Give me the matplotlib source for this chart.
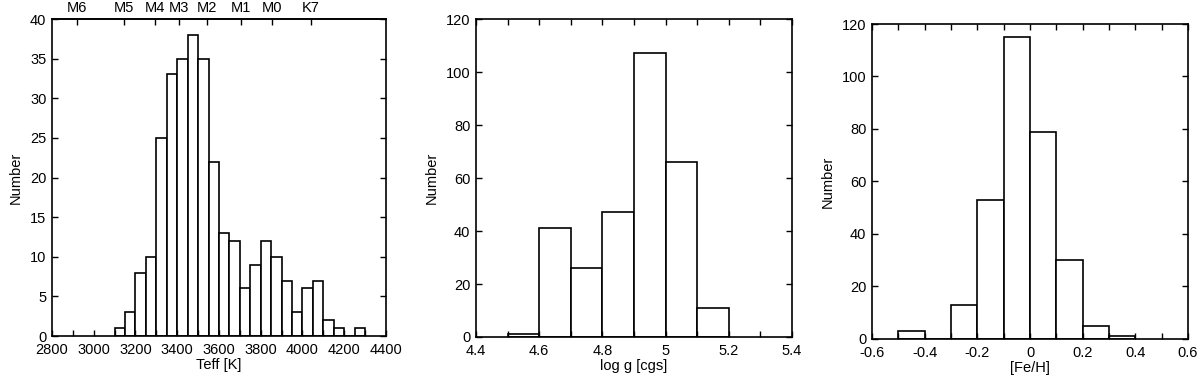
import numpy as np
import matplotlib
matplotlib.use("Agg")
import matplotlib.pyplot as plt
from matplotlib.ticker import MultipleLocator

plt.rcParams['font.family'] = ['Liberation Sans', 'DejaVu Sans']
plt.rcParams['font.size'] = 10.5

# Teff histogram, 50 K bins starting at 3100 K
teff_left = [3100, 3150, 3200, 3250, 3300, 3350, 3400, 3450, 3500, 3550, 3600, 3650,
             3700, 3750, 3800, 3850, 3900, 3950, 4000, 4050, 4100, 4150, 4200, 4250]
teff_count = [1, 3, 8, 10, 25, 33, 35, 38, 35, 22, 13, 12,
              6, 9, 12, 10, 7, 3, 6, 7, 2, 1, 0, 1]
spt_labels = ["M6", "M5", "M4", "M3", "M2", "M1", "M0", "K7"]
spt_teff = [2918, 3143, 3295, 3410, 3543, 3705, 3856, 4040]

# log g histogram, 0.1 dex bins
logg_left = [4.5, 4.6, 4.7, 4.8, 4.9, 5.0, 5.1]
logg_count = [1, 41, 26, 47, 107, 66, 11]

# [Fe/H] histogram, 0.1 dex bins
feh_left = [-0.5, -0.4, -0.3, -0.2, -0.1, 0.0, 0.1, 0.2, 0.3]
feh_count = [3, 0, 13, 53, 115, 79, 30, 5, 1]

fig = plt.figure(figsize=(12, 3.84), dpi=100)

positions = [
    [0.0433, 0.125, 0.2783, 0.8255],
    [0.3967, 0.1224, 0.2633, 0.828],
    [0.7267, 0.1172, 0.2633, 0.8203],
]

panels = [
    (teff_left, teff_count, 50, (2800, 4400), (0, 40), 200, 100, 5, "Teff [K]", "%d"),
    (logg_left, logg_count, 0.1, (4.4, 5.4), (0, 120), 0.2, 0.1, 20, "log g [cgs]", None),
    (feh_left, feh_count, 0.1, (-0.6, 0.6), (0, 120), 0.2, 0.1, 20, "[Fe/H]", None),
]

for i, (left, count, width, xlim, ylim, xmaj, xmin, ymaj, xlabel, fmt) in enumerate(panels):
    ax = fig.add_axes(positions[i])
    ax.bar(left, count, width=width, align='edge', facecolor='white',
           edgecolor='black', linewidth=1.2)
    ax.set_xlim(*xlim)
    ax.set_ylim(*ylim)
    ax.xaxis.set_major_locator(MultipleLocator(xmaj))
    ax.xaxis.set_minor_locator(MultipleLocator(xmin))
    ax.yaxis.set_major_locator(MultipleLocator(ymaj))
    ax.set_xlabel(xlabel, labelpad=1)
    ax.set_ylabel("Number", labelpad=5)
    for s in ax.spines.values():
        s.set_linewidth(1.2)
    top = (i != 0)
    ax.tick_params(which='both', direction='in', top=top, right=True, width=1.0)
    ax.tick_params(which='major', length=4)
    ax.tick_params(which='minor', length=4)
    ax.tick_params(axis='x', which='major', pad=5)
    ax.tick_params(axis='y', which='major', pad=4)
    if fmt is None:
        ax.xaxis.set_major_formatter(plt.FuncFormatter(lambda v, p: "%g" % round(v, 2)))
    if i == 0:
        sec = ax.secondary_xaxis('top')
        sec.set_xticks(spt_teff)
        sec.set_xticklabels(spt_labels)
        sec.tick_params(direction='in', length=4, width=1.0, pad=3)
        sec.xaxis.set_minor_locator(plt.NullLocator())
        for s in sec.spines.values():
            s.set_linewidth(1.2)

fig.savefig("out.png", dpi=100)
